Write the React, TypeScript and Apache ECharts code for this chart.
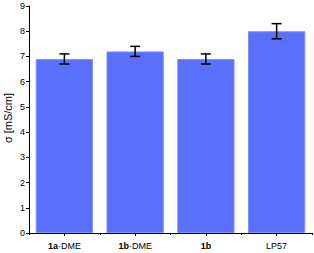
import React, { useEffect, useRef } from "react";
import * as echarts from "echarts";

const categories = ["1a·DME", "1b·DME", "1b", "LP57"];
const labelBold = ["1a", "1b", "1b", ""];
const labelRest = ["·DME", "·DME", "", "LP57"];
const values = [6.9, 7.2, 6.9, 8.0];
const errors = [0.2, 0.2, 0.2, 0.3];
const yTicks = [0, 1, 2, 3, 4, 5, 6, 7, 8, 9];
const yTitle = "σ [mS/cm]";

export default function App() {
  const ref = useRef<HTMLDivElement>(null);
  useEffect(() => {
    const chart = echarts.init(ref.current!, null, { renderer: "svg" });
    const font = "Liberation Sans, Arial, sans-serif";
    chart.setOption({
      animation: false,
      grid: { left: 29, right: 2, top: 6, bottom: 20, containLabel: false, outerBoundsMode: "none" },
      graphic: [
        {
          type: "text",
          x: 8,
          y: 118,
          rotation: Math.PI / 2,
          style: {
            text: yTitle,
            fontFamily: font,
            fontSize: 11,
            fill: "#000",
            align: "center",
            verticalAlign: "middle",
          },
        },
      ],
      xAxis: [
        {
          type: "category",
          data: categories,
          axisLine: { lineStyle: { color: "#000", width: 1 } },
          axisTick: { show: true, alignWithLabel: true, length: 3, lineStyle: { color: "#000" } },
          axisLabel: {
            interval: 0,
            margin: 8,
            fontFamily: font,
            fontSize: 9,
            color: "#000",
            formatter: (v: string) => {
              const i = categories.indexOf(v);
              const b = labelBold[i];
              const r = labelRest[i];
              return (b ? "{b|" + b + "}" : "") + (r ? "{r|" + r + "}" : "");
            },
            rich: {
              b: { fontWeight: "bold", fontSize: 9, fontFamily: font, color: "#000" },
              r: { fontSize: 9, fontFamily: font, color: "#000" },
            },
          },
        },
        {
          type: "category",
          data: categories,
          position: "bottom",
          axisLine: { show: false },
          axisTick: { show: true, alignWithLabel: false, length: 2, lineStyle: { color: "#000" } },
          axisLabel: { show: false },
        },
      ],
      yAxis: {
        type: "value",
        min: 0,
        max: 9,
        interval: 1,
        axisLine: { show: true, lineStyle: { color: "#000", width: 1 } },
        axisTick: { show: true, length: 3, lineStyle: { color: "#000" } },
        splitLine: { show: false },
        axisLabel: {
          margin: 4,
          fontFamily: font,
          fontSize: 9,
          color: "#000",
          formatter: (v: number) => (yTicks.includes(v) ? String(v) : ""),
        },
      },
      series: [
        {
          type: "bar",
          data: values,
          barCategoryGap: "19%",
          itemStyle: { color: "#5a6ffb", borderColor: "#7f8ffc", borderWidth: 1 },
        },
        {
          type: "custom",
          data: values.map((v, i) => [i, v - errors[i], v + errors[i]]),
          renderItem: (params: any, api: any) => {
            const x = api.value(0);
            const lo = api.coord([x, api.value(1)]);
            const hi = api.coord([x, api.value(2)]);
            const hw = 5;
            const st = { stroke: "#000", lineWidth: 1.5 };
            return {
              type: "group",
              children: [
                { type: "line", shape: { x1: lo[0], y1: lo[1], x2: hi[0], y2: hi[1] }, style: st },
                { type: "line", shape: { x1: lo[0] - hw, y1: lo[1], x2: lo[0] + hw, y2: lo[1] }, style: st },
                { type: "line", shape: { x1: hi[0] - hw, y1: hi[1], x2: hi[0] + hw, y2: hi[1] }, style: st },
              ],
            };
          },
          z: 10,
        },
      ],
    });
    return () => chart.dispose();
  }, []);
  return <div ref={ref} style={{ width: 314, height: 253, position: "absolute", left: 0, top: 0 }} />;
}
